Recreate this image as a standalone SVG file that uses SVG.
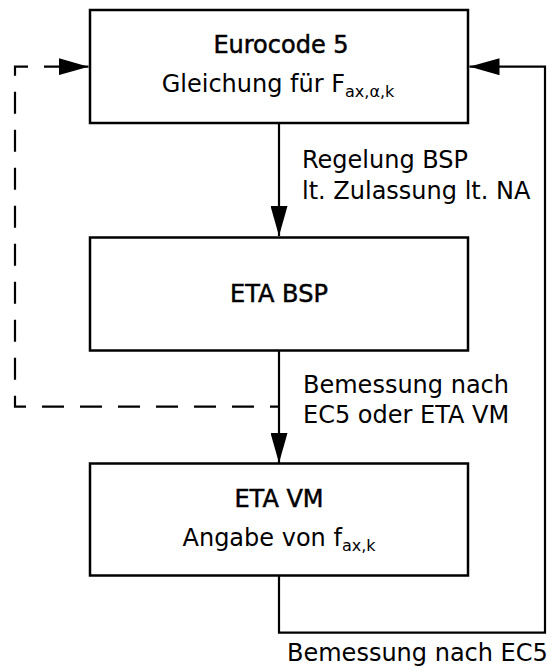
<svg xmlns="http://www.w3.org/2000/svg" width="553" height="672" viewBox="0 0 553 672">
<style>
.box{fill:#fff;stroke:#000;stroke-width:2.5}
.t{font-family:"DejaVu Sans",sans-serif;font-size:24px;fill:#000}
.title{stroke:#000;stroke-width:0.5}
.c{fill:none;stroke:#000;stroke-width:2.2}
.dash{stroke-dasharray:22 16;stroke-dashoffset:13}
.sub{font-size:16px}
</style>
<defs>
<marker id="ah" markerUnits="userSpaceOnUse" markerWidth="30" markerHeight="17" refX="30" refY="8.5" orient="auto">
<path d="M0,0 L30,8.5 L0,17 Z" fill="#000"/>
</marker>
</defs>
<g id="connectors">
<path class="c" d="M279 123 V236" marker-end="url(#ah)"/>
<path class="c" d="M279 351 V463" marker-end="url(#ah)"/>
<path class="c" d="M279 576 V632.7 H545 V66.7 H469.5" marker-end="url(#ah)"/>
<path class="c dash" d="M279 406.7 H15 V66.7 H88.5" marker-end="url(#ah)"/>
<text class="t" x="302" y="168">Regelung BSP</text>
<text class="t" x="302" y="199">lt. Zulassung lt. NA</text>
<text class="t" x="303" y="393">Bemessung nach</text>
<text class="t" x="303" y="423">EC5 oder ETA VM</text>
<text class="t" x="287" y="661">Bemessung nach EC5</text>
</g>
<g id="eurocode5">
<rect class="box" x="90" y="10" width="378" height="113"/>
<text class="t title" x="281" y="53" text-anchor="middle">Eurocode 5</text>
<text class="t" x="278" y="92" text-anchor="middle">Gleichung für F<tspan class="sub" dy="5">ax,α,k</tspan></text>
</g>
<g id="etabsp">
<rect class="box" x="90" y="237.5" width="378" height="113"/>
<text class="t title" x="279" y="302" text-anchor="middle">ETA BSP</text>
</g>
<g id="etavm">
<rect class="box" x="90" y="463.5" width="378" height="112"/>
<text class="t title" x="279" y="507" text-anchor="middle">ETA VM</text>
<text class="t" x="279" y="546" text-anchor="middle">Angabe von f<tspan class="sub" dy="5">ax,k</tspan></text>
</g>
</svg>
